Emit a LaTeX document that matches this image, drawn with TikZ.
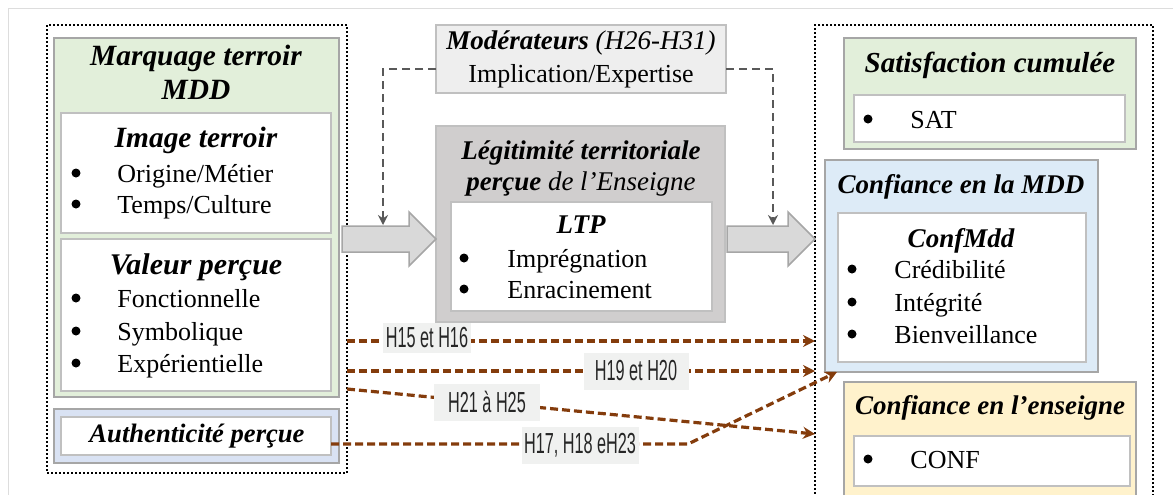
\documentclass[tikz,border=0pt]{standalone}
\usepackage{fontspec}
\setmainfont{Liberation Serif}
\newfontfamily\hypfont[FakeStretch=0.56]{Liberation Sans}
\usetikzlibrary{arrows.meta}

\definecolor{framegrey}{HTML}{DDDDDD}
\definecolor{boxgrey}{HTML}{A6A6A6}
\definecolor{linegrey}{HTML}{C0C0C0}
\definecolor{mddgreen}{HTML}{E2EFDA}
\definecolor{authblue}{HTML}{D9E2F3}
\definecolor{confblue}{HTML}{DDEBF7}
\definecolor{ensyellow}{HTML}{FFF2CC}
\definecolor{ltpgrey}{HTML}{D0CECE}
\definecolor{modgrey}{HTML}{EEEEEE}
\definecolor{arrowgrey}{HTML}{D9D9D9}
\definecolor{dashgrey}{HTML}{595959}
\definecolor{hypbrown}{HTML}{843C0C}
\definecolor{labelgrey}{HTML}{F0F1F0}
\definecolor{labeltext}{HTML}{262626}

\tikzset{
  box/.style={draw=boxgrey, line width=0.75pt, inner sep=0pt, outer sep=0pt, anchor=north west},
  inbox/.style={box, draw=linegrey, line width=0.6pt, fill=white},
  group/.style={draw=black, line width=1.1pt, dash pattern=on 1pt off 1pt, inner sep=0pt, outer sep=0pt, anchor=north west},
  bigarrow/.style={fill=arrowgrey, draw=boxgrey, line width=0.75pt},
  modline/.style={draw=dashgrey, line width=0.8pt, dash pattern=on 4pt off 2.5pt, -{Stealth[length=5pt,width=5pt]}},
  hyp/.style={draw=hypbrown, line width=1.6pt, dash pattern=on 4pt off 2pt, -{Stealth[length=6pt,width=6pt]}},
  hlabel/.style={fill=labelgrey, text=labeltext, font=\hypfont\fontsize{14.5}{14.5}\selectfont, inner sep=0pt, minimum height=18.5pt},
  title/.style={font=\fontsize{13.5}{16}\selectfont\bfseries\itshape, anchor=base, inner sep=0pt},
  item/.style={font=\fontsize{13}{15}\selectfont, anchor=base west, inner sep=0pt},
  dot/.style={circle, fill=black, inner sep=0pt, minimum size=4.5pt},
}

\begin{document}
\begin{tikzpicture}[x=0.5pt,y=-0.5pt]
\useasboundingbox (0,0) rectangle (1173,494);

% frame and groups:
\draw[framegrey, line width=0.5pt] (8,530) -- (8,8) -- (1200,8);
\path (47,25) node[group, minimum width=150pt, minimum height=224pt] (leftgrp) {};
\path (815,25) node[group, minimum width=169pt, minimum height=252.5pt] (rightgrp) {};

% boxes on the left:
\path (54,38) node[box, fill=mddgreen, minimum width=142.5pt, minimum height=179.5pt] (mdd) {};
\path (61,113) node[inbox, minimum width=135pt, minimum height=60pt] (imgT) {};
\path (61,239) node[inbox, minimum width=135pt, minimum height=76pt] (valP) {};
\path (54,409) node[box, fill=authblue, minimum width=142.5pt, minimum height=27pt] (auth) {};
\path (61,417) node[inbox, minimum width=135pt, minimum height=19pt] (authIn) {};

% boxes in the middle:
\path (436,25) node[box, fill=modgrey, draw=linegrey, minimum width=145pt, minimum height=34pt] (mod) {};
\path (436,126) node[box, fill=ltpgrey, draw=linegrey, line width=1pt, minimum width=144.5pt, minimum height=98pt] (ltp) {};
\path (451,202) node[inbox, minimum width=130.5pt, minimum height=54.5pt] (ltpIn) {};

% boxes on the right:
\path (844,38) node[box, fill=mddgreen, minimum width=146pt, minimum height=55.5pt] (sat) {};
\path (854,95) node[inbox, minimum width=135.5pt, minimum height=23.5pt] (satIn) {};
\path (825,160) node[box, fill=confblue, minimum width=136.5pt, minimum height=106pt] (conf) {};
\path (838,213) node[inbox, minimum width=124pt, minimum height=74.5pt] (confIn) {};
\path (844,382) node[box, fill=ensyellow, minimum width=146pt, minimum height=69pt] (ens) {};
\path (854,436) node[inbox, minimum width=138pt, minimum height=25pt] (ensIn) {};

% block arrows:
\draw[bigarrow] (342,226) -- (409,226) -- (409,212) -- (ltp.west |- 0,239) -- (409,266) -- (409,252) -- (342,252) -- cycle;
\draw[bigarrow] (727,226) -- (788,226) -- (788,212) -- (rightgrp.west |- 0,239) -- (788,266) -- (788,252) -- (727,252) -- cycle;

% moderators:
\coordinate (modL) at (383,225);
\coordinate (modR) at (773,225);
\draw[modline] (mod.west |- 0,69) -| (modL);
\draw[modline] (mod.east |- 0,69) -| (modR);

% hypotheses:
\coordinate (bend) at (688,444);
\coordinate (tip) at (837,372);
\draw[hyp] (leftgrp.east |- 0,341) -- (rightgrp.west |- 0,341);
\draw[hyp] (leftgrp.east |- 0,371) -- (rightgrp.west |- 0,371);
\draw[hyp] (leftgrp.east |- 0,389) -- (rightgrp.west |- 0,434);
\draw[hyp] (authIn.east |- 0,444) -- (bend) -- (tip);
\path (427,338) node[hlabel, minimum width=44pt, minimum height=15pt] (h1) {H15 et H16};
\path (636,371) node[hlabel, minimum width=52.5pt] (h2) {H19 et H20};
\path (487,402) node[hlabel, minimum width=53pt] (h3) {H21 à H25};
\path (580,445) node[hlabel, minimum width=58.5pt] (h4) {H17, H18 eH23};

% texts on the left:
\path (196,65) node[title, font=\fontsize{14.7}{16}\selectfont\bfseries\itshape] (mddT1) {Marquage terroir};
\path (196,99) node[title, font=\fontsize{14.7}{16}\selectfont\bfseries\itshape] (mddT2) {MDD};
\path (196,147) node[title, font=\fontsize{14.7}{16}\selectfont\bfseries\itshape] (imgTT) {Image terroir};
\path (76,173) node[dot] (b1) {};
\path (117,182) node[item] (i1) {Origine/Métier};
\path (76,204) node[dot] (b2) {};
\path (117,213) node[item] (i2) {Temps/Culture};
\path (196,274) node[title, font=\fontsize{15}{16}\selectfont\bfseries\itshape] (valPT) {Valeur perçue};
\path (76,298) node[dot] (b3) {};
\path (117,307) node[item] (i3) {Fonctionnelle};
\path (76,331) node[dot] (b4) {};
\path (117,340) node[item] (i4) {Symbolique};
\path (76,363) node[dot] (b5) {};
\path (117,372) node[item] (i5) {Expérientielle};
\path (197,442) node[title, font=\fontsize{13.3}{16}\selectfont\bfseries\itshape] (authT) {Authenticité perçue};

% texts in the middle:
\path (581,49) node[title] (modT) {Modérateurs \mdseries(H26-H31)};
\path (581,82) node[item, anchor=base] (modI) {Implication/Expertise};
\path (581,159) node[title] (ltpT1) {Légitimité territoriale};
\path (581,190) node[title] (ltpT2) {perçue \mdseries de l’Enseigne};
\path (581,233) node[title] (ltpInT) {LTP};
\path (464,258) node[dot] (b6) {};
\path (507,267) node[item] (i6) {Imprégnation};
\path (464,289) node[dot] (b7) {};
\path (507,298) node[item] (i7) {Enracinement};

% texts on the right:
\path (990,72) node[title, font=\fontsize{14.5}{16}\selectfont\bfseries\itshape] (satT) {Satisfaction cumulée};
\path (868,119) node[dot] (b8) {};
\path (910,128) node[item] (i8) {SAT};
\path (961,193) node[title] (confT) {Confiance en la MDD};
\path (961,247) node[title] (confInT) {ConfMdd};
\path (852,269) node[dot] (b9) {};
\path (894,278) node[item] (i9) {Crédibilité};
\path (852,302) node[dot] (b10) {};
\path (894,311) node[item] (i10) {Intégrité};
\path (852,334) node[dot] (b11) {};
\path (894,343) node[item] (i11) {Bienveillance};
\path (990,414) node[title] (ensT) {Confiance en l’enseigne};
\path (868,459) node[dot] (b12) {};
\path (910,468) node[item] (i12) {CONF};

\end{tikzpicture}
\end{document}
